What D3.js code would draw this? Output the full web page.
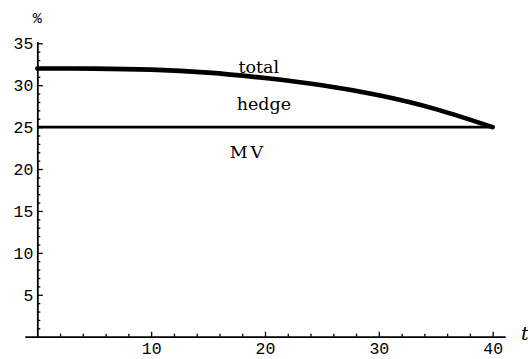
<!DOCTYPE html>
<html>
<head>
<meta charset="utf-8">
<script src="https://cdn.jsdelivr.net/npm/d3@7"></script>
<style>
  html, body { margin: 0; padding: 0; background: #fff; }
  svg { display: block; }
  .tick text { font-family: "Liberation Mono", "DejaVu Sans Mono", monospace; font-size: 16.5px; fill: #000; }
  .lbl { font-family: "DejaVu Serif", serif; font-size: 17.5px; fill: #000; }
</style>
</head>
<body>
<svg id="chart" width="528" height="359"></svg>
<script>
// time grid (years) and percentage series
const tValues  = [0, 5, 10, 15, 20, 25, 30, 35, 40];
const totalPct = [32.0, 31.98, 31.86, 31.5, 30.85, 30.0, 28.8, 27.15, 25.0];
const mvPct    = [25, 25, 25, 25, 25, 25, 25, 25, 25];

// tick values
const xMajor = [10, 20, 30, 40];
const xMinor = [2, 4, 6, 8, 12, 14, 16, 18, 22, 24, 26, 28, 32, 34, 36, 38];
const yMajor = [5, 10, 15, 20, 25, 30, 35];
const yMinor = d3.range(1, 35).filter(v => v % 5 !== 0);

// in-plot labels (t, value at baseline)
const labelText = ["total", "hedge", "MV"];
const labelT    = [19.45, 19.9, 18.5];
const labelV    = [31.4, 27.05, 21.3];

const svg = d3.select("#chart");

const x = d3.scaleLinear().domain([-1.1, 41.1]).range([24.8, 505.2]);
const y = d3.scaleLinear().domain([0, 35.2]).range([336.7, 41.6]);

const x0 = x(0), y0 = y(0);

// x axis: major + minor ticks pointing up
const gx = svg.append("g").attr("transform", `translate(0,${y0})`);
gx.call(d3.axisBottom(x).tickValues(xMajor).tickSize(-5).tickSizeOuter(0).tickPadding(5.5).tickFormat(d3.format("d")));
gx.append("g").call(d3.axisBottom(x).tickValues(xMinor).tickSize(-3).tickSizeOuter(0).tickFormat(""))
  .select(".domain").remove();

// y axis: major + minor ticks pointing right
const gy = svg.append("g").attr("transform", `translate(${x0},0)`);
gy.call(d3.axisLeft(y).tickValues(yMajor).tickSize(-5.5).tickSizeOuter(0).tickPadding(4).tickFormat(d3.format("d")));
gy.append("g").call(d3.axisLeft(y).tickValues(yMinor).tickSize(-3).tickSizeOuter(0).tickFormat(""))
  .select(".domain").remove();

svg.selectAll(".domain").attr("stroke", "#000").attr("stroke-width", 1.8);
svg.selectAll(".tick line").attr("stroke", "#000").attr("stroke-width", 1.3);

// series lines
const line = d3.line()
  .x((d, i) => x(tValues[i]))
  .y(d => y(d))
  .curve(d3.curveNatural);

svg.append("path").datum(mvPct)
  .attr("d", line).attr("fill", "none").attr("stroke", "#000").attr("stroke-width", 2.6);

svg.append("path").datum(totalPct)
  .attr("d", line).attr("fill", "none").attr("stroke", "#000")
  .attr("stroke-width", 4.6).attr("stroke-linecap", "round");

// in-plot labels
svg.selectAll("text.lbl").data(labelText).enter().append("text")
  .attr("class", "lbl")
  .attr("x", (d, i) => x(labelT[i]))
  .attr("y", (d, i) => y(labelV[i]))
  .attr("text-anchor", "middle")
  .attr("letter-spacing", d => d === "MV" ? "3px" : "0px")
  .text(d => d);

// axis titles
svg.append("text").attr("x", x0).attr("y", 23).attr("text-anchor", "middle")
  .style("font-family", "'Liberation Mono', monospace").style("font-size", "15px").text("%");
svg.append("text").attr("x", 521).attr("y", 340)
  .style("font-family", "'DejaVu Serif', serif").style("font-style", "italic").style("font-size", "19px").text("t");
</script>
</body>
</html>
